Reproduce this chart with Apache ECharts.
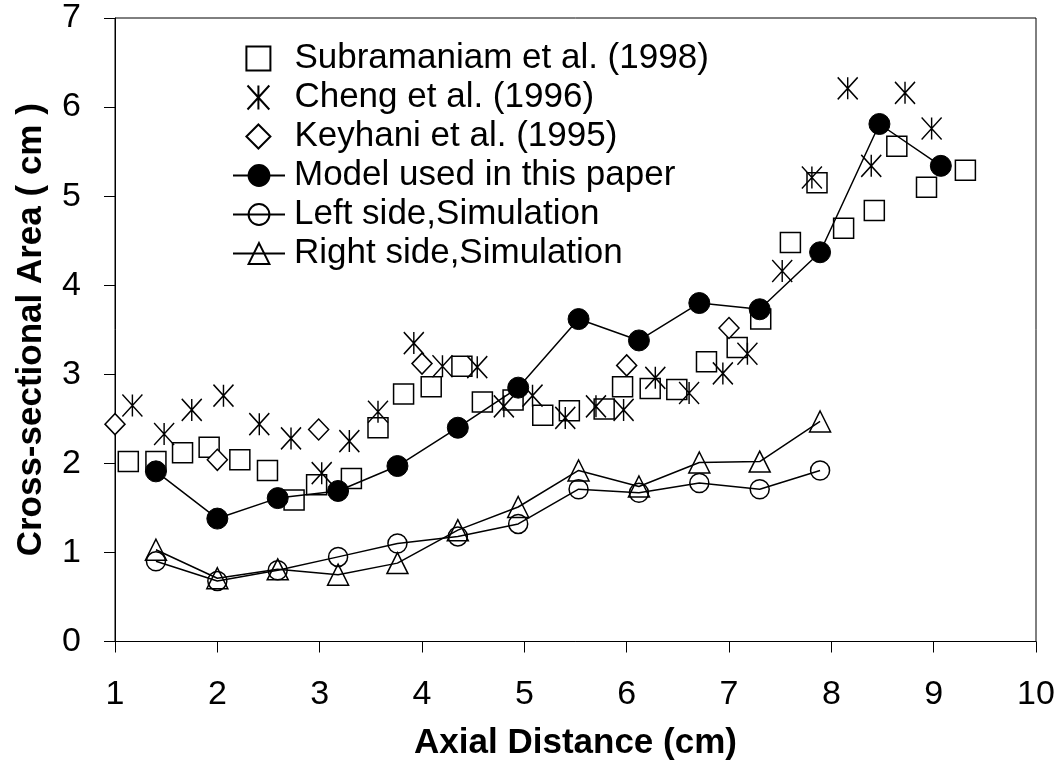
<!DOCTYPE html>
<html>
<head>
<meta charset="utf-8">
<script src="https://cdn.jsdelivr.net/npm/echarts@6/dist/echarts.min.js"></script>
<style>
html,body{margin:0;padding:0;background:#fff;}
#chart{width:1064px;height:780px;}
</style>
</head>
<body>
<div id="chart"></div>
<script>
// ---- data ----
const xTicks = [1, 2, 3, 4, 5, 6, 7, 8, 9, 10];
const yTicks = [0, 1, 2, 3, 4, 5, 6, 7];

const subX = [1.13, 1.40, 1.66, 1.92, 2.22, 2.49, 2.75, 2.97, 3.31, 3.57, 3.82, 4.09, 4.39, 4.59, 4.89, 5.18, 5.44, 5.78, 5.96, 6.23, 6.49, 6.78, 7.08, 7.31, 7.60, 7.86, 8.12, 8.42, 8.64, 8.93, 9.31];
const subY = [2.02, 2.02, 2.12, 2.18, 2.04, 1.92, 1.59, 1.76, 1.83, 2.40, 2.78, 2.86, 3.09, 2.69, 2.71, 2.54, 2.59, 2.61, 2.86, 2.84, 2.83, 3.14, 3.30, 3.62, 4.48, 5.15, 4.64, 4.84, 5.56, 5.10, 5.29];

const chengX = [1.17, 1.48, 1.75, 2.06, 2.41, 2.72, 3.02, 3.29, 3.57, 3.92, 4.20, 4.54, 4.80, 5.08, 5.40, 5.70, 5.97, 6.28, 6.61, 6.94, 7.18, 7.52, 7.81, 8.16, 8.39, 8.72, 8.98];
const chengY = [2.65, 2.33, 2.60, 2.76, 2.44, 2.28, 1.89, 2.25, 2.58, 3.35, 3.09, 3.08, 2.64, 2.76, 2.51, 2.64, 2.60, 2.96, 2.79, 3.01, 3.23, 4.16, 5.21, 6.21, 5.34, 6.16, 5.76];

const keyX = [1.00, 2.00, 2.99, 4.00, 6.00, 7.00];
const keyY = [2.44, 2.04, 2.38, 3.12, 3.10, 3.52];

const modelX = [1.40, 2.00, 2.59, 3.18, 3.76, 4.35, 4.94, 5.53, 6.12, 6.71, 7.30, 7.89, 8.47, 9.07];
const modelY = [1.91, 1.38, 1.61, 1.69, 1.97, 2.40, 2.85, 3.62, 3.38, 3.80, 3.73, 4.37, 5.81, 5.34];

const simX = [1.40, 2.00, 2.59, 3.18, 3.76, 4.35, 4.94, 5.53, 6.12, 6.71, 7.30, 7.89];
const leftY = [0.90, 0.68, 0.80, 0.95, 1.10, 1.18, 1.32, 1.71, 1.67, 1.78, 1.71, 1.92];
const rightY = [1.03, 0.71, 0.81, 0.75, 0.88, 1.25, 1.51, 1.92, 1.74, 2.01, 2.02, 2.47];

const names = [
  'Subramaniam et al. (1998)',
  'Cheng et al. (1996)',
  'Keyhani et al. (1995)',
  'Model used in this paper',
  'Left side,Simulation',
  'Right side,Simulation'
];

function pairs(xs, ys) { return xs.map((x, i) => [x, ys[i]]); }

const FONT = "'Liberation Sans', Arial, sans-serif";
const asterisk = 'path://M0,0L20,22M20,0L0,22M10,0L10,22';
const openStyle = { color: '#fff', borderColor: '#000', borderWidth: 1.5, opacity: 1 };

const chart = echarts.init(document.getElementById('chart'), null, { renderer: 'canvas' });
chart.setOption({
  backgroundColor: '#fff',
  animation: false,
  textStyle: { fontFamily: FONT },
  grid: { left: 115, right: 28, top: 18, bottom: 138.5, show: true, borderColor: '#000', borderWidth: 1 },
  legend: [
    {
      data: names.slice(0, 3),
      orient: 'vertical', left: 240, top: 34.5,
      itemWidth: 24, itemHeight: 24, itemGap: 1,
      textStyle: { fontSize: 35, color: '#000', fontFamily: FONT, lineHeight: 38, padding: [0, 0, 0, 19] },
      selectedMode: false
    },
    {
      data: names.slice(3),
      orient: 'vertical', left: 227, top: 151.5,
      itemWidth: 52, itemHeight: 26, itemGap: 1,
      textStyle: { fontSize: 35, color: '#000', fontFamily: FONT, lineHeight: 38, padding: [0, 0, 0, 4] },
      selectedMode: false
    }
  ],
  xAxis: {
    type: 'value', min: xTicks[0], max: xTicks[xTicks.length - 1], interval: 1,
    name: 'Axial Distance (cm)', nameLocation: 'middle', nameGap: 84,
    nameTextStyle: { fontSize: 35, fontWeight: 'bold', color: '#000', fontFamily: FONT },
    axisLine: { lineStyle: { color: '#000', width: 1 } },
    axisTick: { inside: false, length: 11, lineStyle: { color: '#000' } },
    axisLabel: { fontSize: 34, color: '#000', margin: 36, fontFamily: FONT },
    splitLine: { show: false }
  },
  yAxis: {
    type: 'value', min: yTicks[0], max: yTicks[yTicks.length - 1], interval: 1,
    name: 'Cross-sectional Area ( cm )', nameLocation: 'middle', nameGap: 66,
    nameTextStyle: { fontSize: 35, fontWeight: 'bold', color: '#000', fontFamily: FONT },
    axisLine: { lineStyle: { color: '#000', width: 1 } },
    axisTick: { inside: false, length: 11, lineStyle: { color: '#000' } },
    axisLabel: { fontSize: 34, color: '#000', margin: 34, fontFamily: FONT },
    splitLine: { show: false }
  },
  series: [
    {
      name: names[0], type: 'scatter', data: pairs(subX, subY),
      symbol: 'rect', symbolSize: 20, itemStyle: openStyle
    },
    {
      name: names[1], type: 'scatter', data: pairs(chengX, chengY),
      symbol: asterisk, symbolSize: [20, 22],
      itemStyle: { color: 'none', borderColor: '#000', borderWidth: 1.5, opacity: 1 }
    },
    {
      name: names[2], type: 'scatter', data: pairs(keyX, keyY),
      symbol: 'diamond', symbolSize: [20, 21], itemStyle: openStyle
    },
    {
      name: names[3], type: 'line', data: pairs(modelX, modelY),
      symbol: 'circle', symbolSize: 21, showAllSymbol: true,
      lineStyle: { color: '#000', width: 1.5 },
      itemStyle: { color: '#000', borderColor: '#000', borderWidth: 1 }
    },
    {
      name: names[4], type: 'line', data: pairs(simX, leftY),
      symbol: 'circle', symbolSize: 19, showAllSymbol: true,
      lineStyle: { color: '#000', width: 1.5 },
      itemStyle: { color: 'rgba(255,255,255,0)', borderColor: '#000', borderWidth: 1.5 }
    },
    {
      name: names[5], type: 'line', data: pairs(simX, rightY),
      symbol: 'triangle', symbolSize: 21, showAllSymbol: true,
      lineStyle: { color: '#000', width: 1.5 },
      itemStyle: { color: 'rgba(255,255,255,0)', borderColor: '#000', borderWidth: 1.5 }
    }
  ]
});
</script>
</body>
</html>
